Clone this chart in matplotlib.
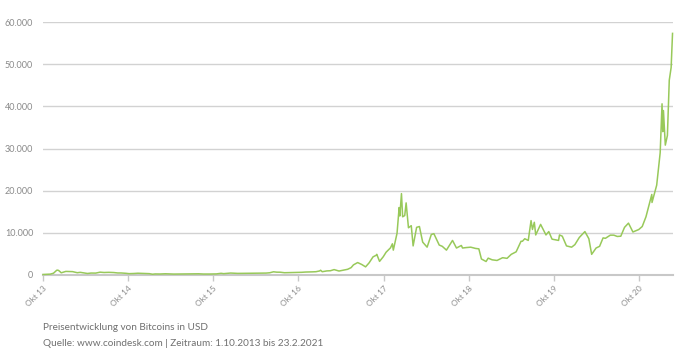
import matplotlib.pyplot as plt
import matplotlib.dates as mdates
import numpy as np

plt.rcParams['font.family'] = ['Lato', 'DejaVu Sans']

# Bitcoin Kurs (USD)
dates = ["2013-10-01", "2013-10-15", "2013-11-01", "2013-11-15", "2013-11-29", "2013-12-04",
         "2013-12-10", "2013-12-18", "2013-12-31", "2014-01-07", "2014-01-20", "2014-02-05",
         "2014-02-25", "2014-03-10", "2014-03-31", "2014-04-10", "2014-04-25", "2014-05-15",
         "2014-06-03", "2014-06-20", "2014-07-10", "2014-07-31", "2014-08-18", "2014-09-01",
         "2014-09-22", "2014-10-05", "2014-10-25", "2014-11-12", "2014-11-30", "2014-12-15",
         "2014-12-31", "2015-01-14", "2015-01-25", "2015-02-15", "2015-03-10", "2015-03-31",
         "2015-04-15", "2015-05-15", "2015-06-15", "2015-07-10", "2015-07-31", "2015-08-20",
         "2015-09-15", "2015-10-15", "2015-11-04", "2015-11-15", "2015-12-15", "2015-12-31",
         "2016-01-15", "2016-02-15", "2016-03-15", "2016-04-15", "2016-05-15", "2016-05-31",
         "2016-06-16", "2016-06-30", "2016-07-15", "2016-08-02", "2016-08-31", "2016-09-30",
         "2016-10-15", "2016-10-31", "2016-11-15", "2016-11-30", "2016-12-15", "2016-12-31",
         "2017-01-04", "2017-01-11", "2017-01-31", "2017-02-15", "2017-03-03", "2017-03-24",
         "2017-04-15", "2017-04-30", "2017-05-15", "2017-05-25", "2017-06-12", "2017-06-30",
         "2017-07-16", "2017-07-31", "2017-08-17", "2017-08-31", "2017-09-02", "2017-09-14",
         "2017-09-30", "2017-10-12", "2017-10-31", "2017-11-08", "2017-11-12", "2017-11-28",
         "2017-12-07", "2017-12-10", "2017-12-17", "2017-12-22", "2017-12-31", "2018-01-06",
         "2018-01-16", "2018-01-28", "2018-02-05", "2018-02-20", "2018-03-04", "2018-03-18",
         "2018-04-06", "2018-04-24", "2018-05-05", "2018-05-28", "2018-06-10", "2018-06-28",
         "2018-07-24", "2018-08-10", "2018-08-31", "2018-09-05", "2018-09-20", "2018-10-10",
         "2018-10-31", "2018-11-14", "2018-11-25", "2018-12-15", "2018-12-24", "2019-01-10",
         "2019-01-31", "2019-02-24", "2019-03-15", "2019-04-02", "2019-04-23", "2019-05-14",
         "2019-05-20", "2019-05-30", "2019-06-14", "2019-06-26", "2019-07-02", "2019-07-10",
         "2019-07-16", "2019-08-06", "2019-08-29", "2019-09-10", "2019-09-24", "2019-10-22",
         "2019-10-26", "2019-11-07", "2019-11-25", "2019-12-17", "2019-12-31", "2020-01-19",
         "2020-02-12", "2020-02-29", "2020-03-12", "2020-03-31", "2020-04-15", "2020-04-30",
         "2020-05-10", "2020-05-31", "2020-06-15", "2020-06-30", "2020-07-15", "2020-07-31",
         "2020-08-17", "2020-09-05", "2020-09-30", "2020-10-15", "2020-10-31", "2020-11-12",
         "2020-11-25", "2020-11-26", "2020-12-16", "2020-12-31", "2021-01-08", "2021-01-11",
         "2021-01-14", "2021-01-22", "2021-01-31", "2021-02-08", "2021-02-16", "2021-02-22"]
prices = [125, 150, 205, 420, 1130, 1150,
          950, 520, 750, 850, 820, 800,
          540, 630, 450, 360, 460, 450,
          670, 595, 630, 585, 480, 480,
          400, 320, 355, 420, 375, 350,
          320, 180, 250, 235, 290, 245,
          220, 237, 235, 290, 285, 230,
          230, 260, 400, 320, 460, 430,
          380, 400, 415, 430, 455, 530,
          760, 670, 660, 540, 575, 608,
          640, 700, 710, 745, 780, 965,
          1130, 780, 970, 1010, 1280, 940,
          1180, 1350, 1750, 2400, 2950, 2480,
          1930, 2870, 4300, 4700, 4900, 3230,
          4340, 5400, 6450, 7400, 5900, 9900,
          16000, 14000, 19300, 13800, 14100, 17100,
          11200, 11700, 6900, 11300, 11500, 7800,
          6600, 9600, 9800, 7100, 6800, 5900,
          8200, 6400, 7000, 6400, 6500, 6600,
          6300, 6200, 3800, 3200, 4000, 3600,
          3450, 4100, 3950, 4900, 5500, 8000,
          8000, 8600, 8200, 12900, 10800, 12500,
          9500, 12000, 9500, 10300, 8500, 8200,
          9500, 9200, 6900, 6600, 7200, 8900,
          10300, 8600, 4900, 6400, 6800, 8800,
          8700, 9450, 9450, 9140, 9200, 11300,
          12300, 10200, 10780, 11500, 13800, 16300,
          19100, 17200, 21300, 29000, 40600, 34000,
          39000, 30800, 33100, 46200, 49200, 57300]
yticks = [0, 10000, 20000, 30000, 40000, 50000, 60000]
xtick_dates = ["2013-10-01", "2014-10-01", "2015-10-01", "2016-10-01",
               "2017-10-01", "2018-10-01", "2019-10-01", "2020-10-01"]
xtick_labels = ["Okt 13", "Okt 14", "Okt 15", "Okt 16", "Okt 17", "Okt 18", "Okt 19", "Okt 20"]

x = np.array(dates, dtype="datetime64[D]")
xt = np.array(xtick_dates, dtype="datetime64[D]")

fig = plt.figure(figsize=(6.89, 3.59), dpi=100)
ax = fig.add_axes([43/689, 1-275/359, 630/689, 253/359])

ax.plot(x, prices, color="#98c95a", lw=1.1, clip_on=False, zorder=3)

ax.set_ylim(0, 60000)
ax.set_xlim(np.datetime64("2013-10-01"), np.datetime64("2021-02-24"))
ax.set_yticks(yticks)
ax.set_yticklabels([f"{v:,}".replace(",", ".") for v in yticks])
ax.tick_params(axis="y", length=0, pad=7, labelsize=6.5, labelcolor="#8a8a8a")
ax.set_xticks(xt)
ax.set_xticklabels(xtick_labels, rotation=45, ha="right", rotation_mode="anchor")
ax.tick_params(axis="x", length=4, width=1, color="#c8c8c8", pad=3, labelsize=6, labelcolor="#8a8a8a")
ax.grid(axis="y", color="#d2d2d2", lw=1)
for s in ["top", "right", "left"]:
    ax.spines[s].set_visible(False)
ax.spines["bottom"].set_color("#c8c8c8")
ax.spines["bottom"].set_linewidth(1.5)

fig.text(43/689, 1-327/359, "Preisentwicklung von Bitcoins in USD", fontsize=7.2, color="#707070", va="center")
fig.text(43/689, 1-343/359, "Quelle: www.coindesk.com | Zeitraum: 1.10.2013 bis 23.2.2021",
         fontsize=7.2, color="#707070", va="center")

fig.savefig("out.png", dpi=100)
